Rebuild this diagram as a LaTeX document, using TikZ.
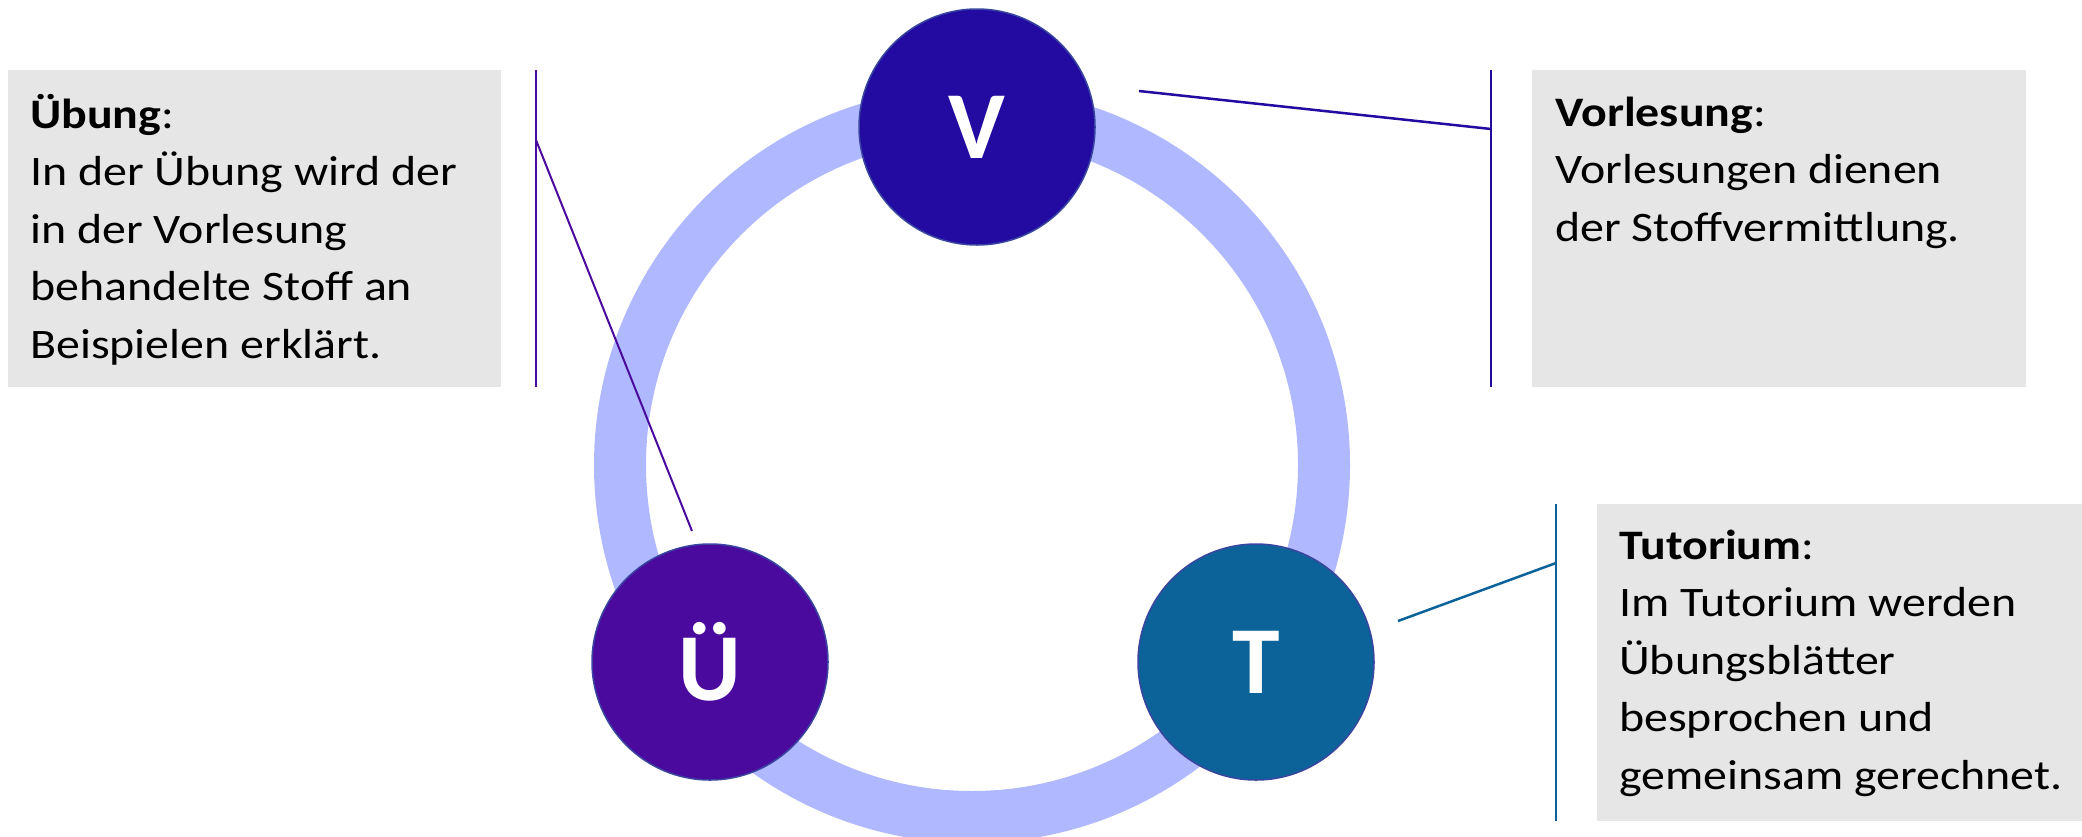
\documentclass[tikz,border=0pt]{standalone}
\usepackage{fontspec}
\setmainfont{Carlito}
\newfontfamily\widefont[FakeStretch=1.14]{Carlito}
\definecolor{ringc}{HTML}{B0B9FF}
\definecolor{vcol}{HTML}{230AA0}
\definecolor{ucol}{HTML}{4A0A9E}
\definecolor{tcol}{HTML}{0C6399}
\definecolor{bordc}{HTML}{3A45A0}
\definecolor{boxc}{HTML}{E6E6E6}
\begin{document}
\begin{tikzpicture}[x=1pt,y=-1pt,
  bubble/.style={circle,minimum size=236pt,inner sep=0pt,draw=bordc,line width=1.5pt,text=white,font=\fontsize{96}{110}\selectfont\bfseries},
  infobox/.style={rectangle,fill=boxc,inner sep=0pt,anchor=north west},
  infotext/.style={anchor=base west,inner sep=0pt,align=left,font=\widefont\fontsize{42}{57.5}\selectfont}]
\useasboundingbox (0,0) rectangle (2082,836);
% ring
\node[circle,minimum size=704pt,inner sep=0pt,draw=ringc,line width=52pt] (ring) at (972,465) {};
% bubbles
\node[bubble,fill=vcol] (V) at (977,127) {V};
\node[bubble,fill=ucol] (U) at (710,662) {Ü};
\node[bubble,fill=tcol] (T) at (1256,662) {T};
% boxes
\node[infobox,minimum width=493pt,minimum height=317pt] (bu) at (8,70) {};
\node[infobox,minimum width=494pt,minimum height=317pt] (bv) at (1532,70) {};
\node[infobox,minimum width=486pt,minimum height=317pt] (bt) at (1597,504) {};
% texts (anchored at the baseline of the last line)
\node[infotext] (tu) at (30,358) {\textbf{Übung}:\\In der Übung wird der\\in der Vorlesung\\behandelte Stoff an\\Beispielen erklärt.};
\node[infotext] (tv) at (1555,241) {\textbf{Vorlesung}:\\Vorlesungen dienen\\der Stoffvermittlung.};
\node[infotext] (tt) at (1619,789) {\textbf{Tutorium}:\\Im Tutorium werden\\Übungsblätter\\besprochen und\\gemeinsam gerechnet.};
% callout lines
\coordinate (u1) at (536,70); \coordinate (u2) at (536,387);
\coordinate (uk) at (536,140); \coordinate (ue) at (692,531);
\draw[ucol,line width=2pt] (u1) -- (u2);
\draw[ucol,line width=2pt] (uk) -- (ue);
\coordinate (v1) at (1491,70); \coordinate (v2) at (1491,387);
\coordinate (vk) at (1491,129); \coordinate (ve) at (1139,91);
\draw[vcol,line width=2.5pt] (v1) -- (v2);
\draw[vcol,line width=2.5pt] (ve) -- (vk);
\coordinate (t1) at (1556,504); \coordinate (t2) at (1556,821);
\coordinate (tk) at (1556,563); \coordinate (te) at (1398,621);
\draw[tcol,line width=2.5pt] (t1) -- (t2);
\draw[tcol,line width=2.5pt] (te) -- (tk);
\end{tikzpicture}
\end{document}
